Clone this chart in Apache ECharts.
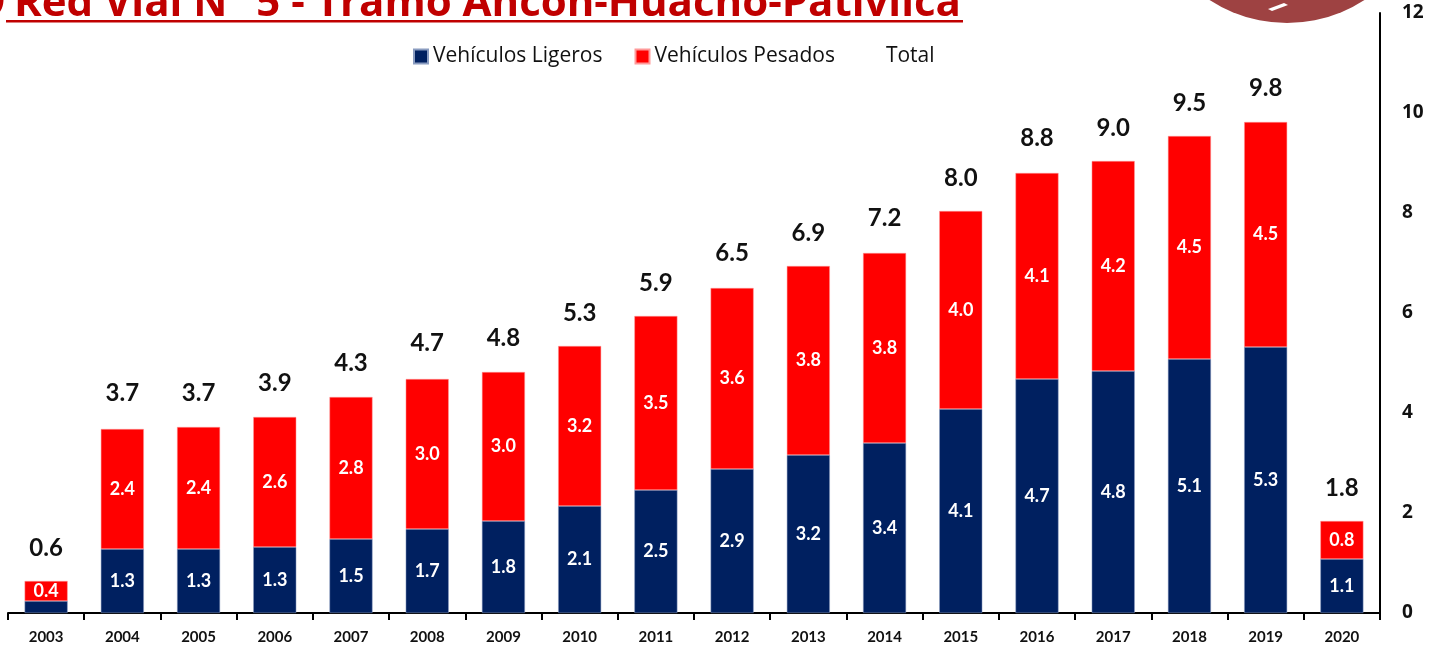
<!DOCTYPE html>
<html>
<head>
<meta charset="utf-8">
<script src="https://cdn.jsdelivr.net/npm/echarts@6/dist/echarts.min.js"></script>
<style>html,body{margin:0;padding:0;background:#fff}#c{width:1434px;height:649px}</style>
</head>
<body>
<div id="c"></div>
<script>
var years = ['2003','2004','2005','2006','2007','2008','2009','2010','2011','2012','2013','2014','2015','2016','2017','2018','2019','2020'];
var ligeros = [0.24,1.28,1.28,1.32,1.48,1.68,1.84,2.14,2.46,2.88,3.16,3.40,4.08,4.68,4.84,5.08,5.32,1.08];
var pesados = [0.40,2.40,2.44,2.60,2.84,3.00,2.98,3.20,3.48,3.62,3.78,3.80,3.96,4.12,4.20,4.46,4.50,0.76];
var totals  = [0.6,3.7,3.7,3.9,4.3,4.7,4.8,5.3,5.9,6.5,6.9,7.2,8.0,8.8,9.0,9.5,9.8,1.8];
var yTicks = [0,2,4,6,8,10,12];

var FONT = 'Lato, "Open Sans", sans-serif';
var chart = echarts.init(document.getElementById('c'));
chart.setOption({
  animation: false,
  backgroundColor: '#fff',
  graphic: [
    {type:'circle', shape:{cx:1287, cy:-119, r:142}, style:{fill:'#9E4242'}, z:0},
    {type:'polygon', shape:{points:[[1268,9],[1284,3],[1288,5],[1272,11]]}, style:{fill:'#fff'}, z:1},
    {type:'text', x:14, y:4, style:{text:'Red Vial N° 5 - Tramo Ancón-Huacho-Pativilca', fill:'#C00000', font:'bold 42px "Open Sans", sans-serif', verticalAlign:'middle', align:'left'}},
    {type:'text', x:5, y:4, style:{text:'9', fill:'#C00000', font:'bold 42px "Open Sans", sans-serif', verticalAlign:'middle', align:'right'}},
    {type:'rect', shape:{x:6, y:20, width:957, height:2.5}, style:{fill:'#C00000'}}
  ],
  legend: {
    top: 41,
    left: 408,
    itemWidth: 14,
    itemHeight: 14,
    itemGap: 32,
    textStyle: {fontFamily: '"Open Sans", sans-serif', fontSize: 21, color: '#111'},
    data: [
      {name:'Vehículos Ligeros', icon:'rect'},
      {name:'Vehículos Pesados', icon:'rect'},
      {name:'Total', icon:'rect', itemStyle:{color:'rgba(0,0,0,0)', opacity:0}}
    ]
  },
  grid: {left: 8, right: 54, top: 13, bottom: 36},
  xAxis: {
    type: 'category',
    data: years,
    axisLine: {lineStyle: {color: '#000', width: 2}},
    axisTick: {show: true, length: 7, lineStyle: {color:'#000', width: 2}},
    axisLabel: {fontFamily: FONT, fontWeight: 'bold', fontSize: 15, color: '#111', margin: 17}
  },
  yAxis: {
    type: 'value',
    position: 'right',
    min: 0, max: 12, interval: 2,
    splitLine: {show: false},
    axisLine: {show: true, lineStyle: {color: '#000', width: 2}},
    axisTick: {show: false},
    axisLabel: {fontFamily: '"Open Sans", sans-serif', fontWeight: 'bold', fontSize: 19, color: '#111', margin: 22,
      padding: [5, 0, 0, 0],
      formatter: function(v){ return yTicks.indexOf(v) >= 0 ? String(v) : ''; }}
  },
  series: [
    {
      name: 'Vehículos Ligeros', type: 'bar', stack: 's', barWidth: 43,
      data: ligeros,
      itemStyle: {color: '#002060', borderColor:'#8a9cc0', borderWidth:0.5},
      label: {show: true, position: 'inside', color: '#fff', fontFamily: FONT, fontWeight: 'bold', fontSize: 18,
        formatter: function(p){ return p.dataIndex === 0 ? '' : p.value.toFixed(1); }}
    },
    {
      name: 'Vehículos Pesados', type: 'bar', stack: 's', barWidth: 43,
      data: pesados,
      itemStyle: {color: '#FF0000', borderColor:'#ff9a9a', borderWidth:0.5},
      label: {show: true, position: 'inside', color: '#fff', fontFamily: FONT, fontWeight: 'bold', fontSize: 18,
        formatter: function(p){ return p.value.toFixed(1); }}
    },
    {
      name: 'Total', type: 'line',
      data: totals,
      symbol: 'circle', symbolSize: 1,
      itemStyle: {color: 'rgba(0,0,0,0)'},
      lineStyle: {opacity: 0, width: 0},
      label: {show: true, position: 'top', distance: 22, color: '#111', fontFamily: FONT, fontWeight: 'bold', fontSize: 24,
        formatter: function(p){ return p.value.toFixed(1); }},
      z: 5
    }
  ]
});
</script>
</body>
</html>
